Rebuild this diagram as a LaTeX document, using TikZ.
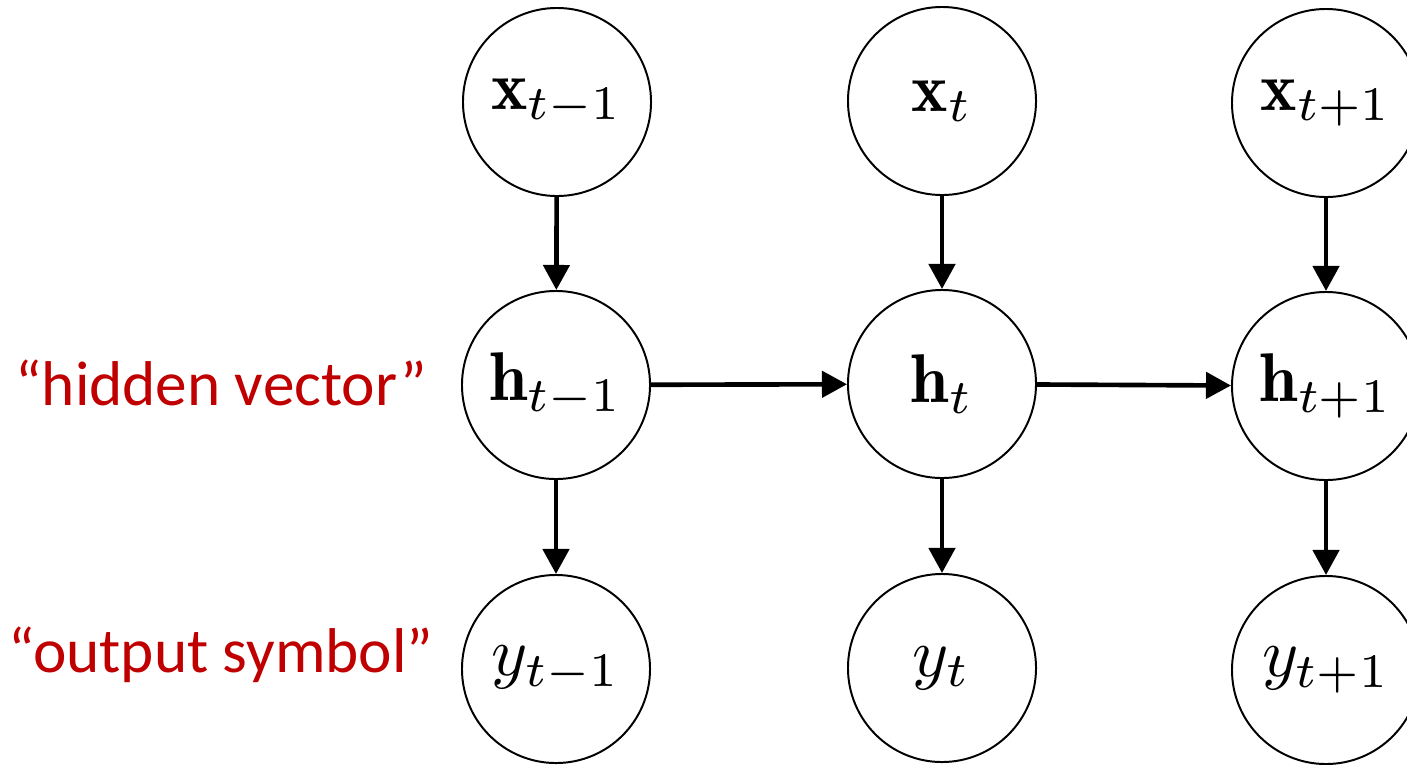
\documentclass[tikz,border=0pt]{standalone}
\usepackage{graphicx}
\usepackage{fontspec}
\usetikzlibrary{arrows.meta}
\newfontfamily\labelfont{Carlito}
\definecolor{labelred}{RGB}{192,0,0}
\newcommand{\bigmath}[1]{\scalebox{4.9}{$#1$}}
\tikzset{
  var/.style={circle,draw=black,line width=1.4pt,minimum size=4.7cm,inner sep=0pt},
  conn/.style={line width=3.3pt,-{Triangle[length=17.8pt,width=18.5pt]}},
  lbl/.style={anchor=base,text=labelred,font=\labelfont\fontsize{45}{54}\selectfont}
}
\begin{document}
\begin{tikzpicture}[x=0.025cm,y=-0.025cm]
\clip (0,0) rectangle (1407,764);
\node[var] (x1) at (557,102) {\bigmath{\mathbf{x}_{t-1}}};
\node[var] (x2) at (942,101) {\bigmath{\mathbf{x}_{t}}};
\node[var] (x3) at (1326,103) {\bigmath{\mathbf{x}_{t+1}}};
\node[var] (h1) at (556,385) {\bigmath{\mathbf{h}_{t-1}}};
\node[var] (h2) at (942,384) {\bigmath{\mathbf{h}_{t}}};
\node[var] (h3) at (1326,386) {\bigmath{\mathbf{h}_{t+1}}};
\node[var] (y1) at (556,669) {\bigmath{y_{t-1}}};
\node[var] (y2) at (942,668) {\bigmath{y_{t}}};
\node[var] (y3) at (1326,670) {\bigmath{y_{t+1}}};
\node[lbl] (lh) at (221,405) {“hidden vector”};
\node[lbl] (ly) at (221,672) {“output symbol”};
\draw[conn] (x1) -- (h1);
\draw[conn] (x2) -- (h2);
\draw[conn] (x3) -- (h3);
\draw[conn] (h1) -- (y1);
\draw[conn] (h2) -- (y2);
\draw[conn] (h3) -- (y3);
\draw[conn] (h1) -- (h2);
\draw[conn] (h2) -- (h3);
\end{tikzpicture}
\end{document}
